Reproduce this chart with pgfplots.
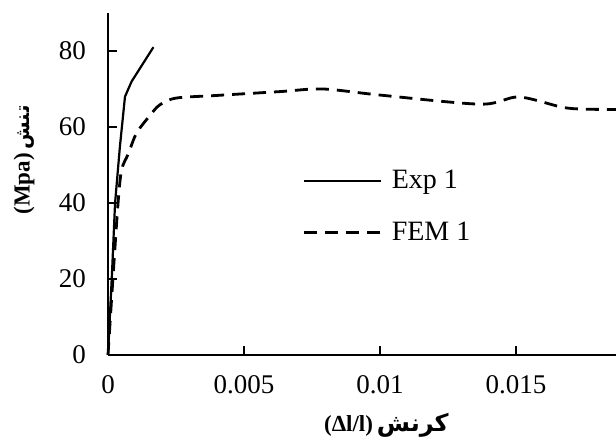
\documentclass[border=0pt]{standalone}
\usepackage{pgfplots}
\pgfplotsset{compat=1.18}
\usepackage{fontspec}
\setmainfont{Liberation Serif}
\newfontfamily\arabicfont[Script=Arabic]{DejaVu Sans}
\TeXXeTstate=1
\begin{document}
\begin{tikzpicture}
\begin{axis}[
  scale only axis, width=254pt, height=171pt,
  xmin=0, xmax=0.01868, ymin=0, ymax=90,
  axis lines=left, axis line style={-, line width=0.9pt},
  tick align=inside, major tick length=4.5pt,
  tick style={line width=0.8pt, black},
  xtick={0,0.005,0.01,0.015}, xticklabels={0,0.005,0.01,0.015},
  ytick={0,20,40,60,80},
  /pgf/number format/assume math mode=true,
  tick label style={font=\fontsize{13.5}{16}\selectfont},
  xticklabel shift=7pt, yticklabel shift=7.5pt,
  scaled x ticks=false,
  clip=false,
  legend style={draw=none, fill=none, at={(rel axis cs:0.383,0.553)}, anchor=north west,
    font=\fontsize{14}{16}\selectfont, row sep=11pt, inner sep=0pt},
  legend cell align=left,
  legend image code/.code={\draw[#1] (0pt,0pt) -- (38.5pt,0pt); \path (41pt,0pt);},
  xlabel={\bfseries\fontsize{11.5}{13}\selectfont (Δl/l)\,{\arabicfont\fontsize{12}{14}\selectfont\beginR کرنش\endR}},
  ylabel={\bfseries\fontsize{11.5}{13}\selectfont (Mpa)\,{\arabicfont\fontsize{10}{14}\selectfont\beginR تنش\endR}},
  xlabel style={at={(rel axis cs:0.548,-0.205)}, anchor=center},
  ylabel style={at={(rel axis cs:-0.165,0.57)}, anchor=center},
]
\addplot[black, line width=1.1pt] coordinates {
 (0,0) (0.00015,22) (0.00026,40) (0.00044,55) (0.000625,68) (0.00087,72) (0.00167,81)
};
\addlegendentry{Exp 1}
\addplot[black, line width=1.4pt, dash pattern=on 6.5pt off 4pt, smooth, tension=0.5] coordinates {
 (0,0) (0.00018,20) (0.00037,40) (0.0005,48.7) (0.00075,53) (0.00105,58.4) (0.00154,63)
 (0.0019,65.8) (0.0025,67.6) (0.004,68.3) (0.0063,69.3) (0.0079,70) (0.01,68.4)
 (0.0137,66) (0.0151,67.9) (0.0167,65.2) (0.0175,64.7) (0.01868,64.6)
};
\addlegendentry{FEM 1}
\coordinate (bl) at (rel axis cs:-0.2126,-0.2573);
\coordinate (tr) at (rel axis cs:1,1.038);
\end{axis}
\pgfresetboundingbox
\path[use as bounding box] (bl) rectangle (tr);
\end{tikzpicture}
\end{document}
